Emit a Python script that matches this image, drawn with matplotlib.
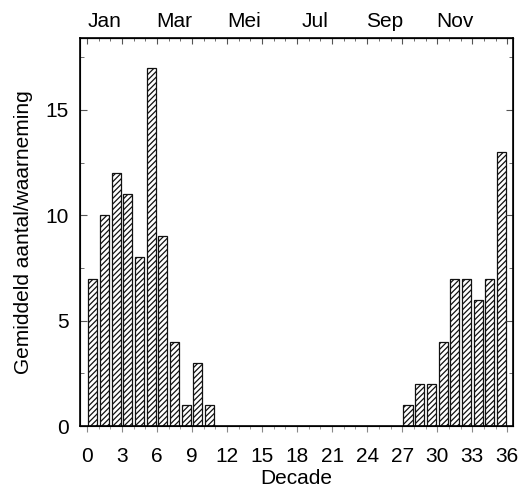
import matplotlib.pyplot as plt
import numpy as np
from matplotlib.ticker import MultipleLocator

plt.rcParams["font.family"] = ["Liberation Sans", "DejaVu Sans"]
plt.rcParams["hatch.linewidth"] = 0.9
plt.rcParams["hatch.color"] = "#333333"

# Decade 1..36 and mean count per observation
decades = np.arange(1, 37)
counts = [7, 10, 12, 11, 8, 17, 9, 4, 1, 3, 1, 0,
          0, 0, 0, 0, 0, 0, 0, 0, 0, 0, 0, 0,
          0, 0, 0, 1, 2, 2, 4, 7, 7, 6, 7, 13]

month_labels = ["Jan", "Mar", "Mei", "Jul", "Sep", "Nov"]
month_pos = [1.5, 7.5, 13.5, 19.5, 25.5, 31.5]

fig = plt.figure(figsize=(5.22, 4.95), dpi=100)
ax = fig.add_axes([0.153, 0.139, 0.830, 0.784])

nonzero = [c > 0 for c in counts]
ax.bar(decades[nonzero] - 0.5, np.array(counts)[nonzero], width=0.78,
       facecolor="white", edgecolor="#111111", linewidth=0.9, hatch="//////")

ax.set_xlim(-0.6, 36.5)
ax.set_ylim(0, 18.4)
ax.xaxis.set_major_locator(MultipleLocator(3))
ax.xaxis.set_minor_locator(MultipleLocator(1))
ax.yaxis.set_major_locator(MultipleLocator(5))
ax.yaxis.set_minor_locator(MultipleLocator(2.5))

ax.tick_params(axis="x", which="both", direction="out", labelsize=15, color="#888888", pad=11)
ax.tick_params(axis="x", which="major", length=4)
ax.tick_params(axis="x", which="minor", length=2)
ax.tick_params(axis="y", which="both", direction="in", right=True, labelsize=15,
               color="#555555", pad=8)
ax.tick_params(axis="y", which="major", length=5)
ax.tick_params(axis="y", which="minor", length=3)

for spine in ax.spines.values():
    spine.set_linewidth(1.2)

ax.set_xlabel("Decade", fontsize=15, labelpad=2)
ax.set_ylabel("Gemiddeld aantal/waarneming", fontsize=15, labelpad=9)

# month axis on top
top = ax.secondary_xaxis("top")
top.set_xticks(month_pos)
top.set_xticklabels(month_labels, fontsize=15)
top.tick_params(length=0, pad=5)

# small inward ticks along the top spine
ax2 = ax.twiny()
ax2.set_xlim(ax.get_xlim())
ax2.xaxis.set_major_locator(MultipleLocator(3))
ax2.xaxis.set_minor_locator(MultipleLocator(1))
ax2.tick_params(axis="x", which="both", direction="in", labeltop=False, color="#555555")
ax2.tick_params(axis="x", which="major", length=4)
ax2.tick_params(axis="x", which="minor", length=2)

fig.savefig("out.png", dpi=100)
